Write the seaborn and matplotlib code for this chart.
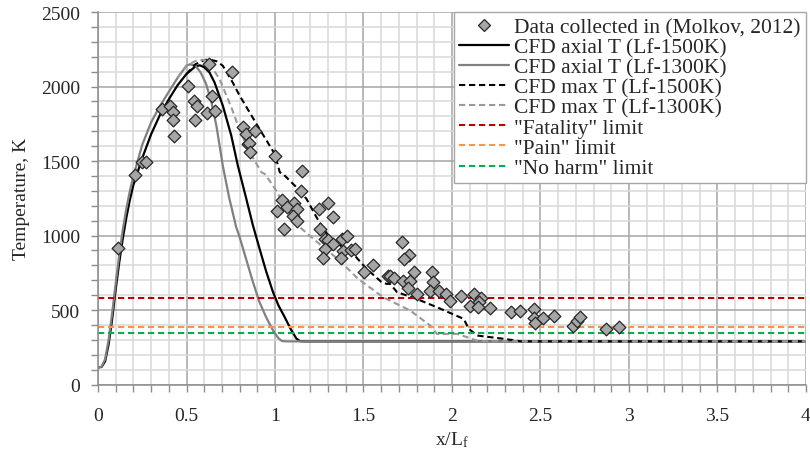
import numpy as np
import pandas as pd
import seaborn as sns
import matplotlib.pyplot as plt
from matplotlib.ticker import MultipleLocator, FormatStrFormatter
from matplotlib.lines import Line2D

# experimental data (Molkov, 2012)
data_x = [0.115, 0.208, 0.246, 0.270, 0.361, 0.408, 0.422, 0.422, 0.431, 0.507,
          0.541, 0.558, 0.550, 0.614, 0.643, 0.662, 0.626, 0.756, 0.822, 0.838,
          0.847, 0.885, 0.853, 0.860, 1.002, 1.153, 1.146, 1.042, 1.108, 1.070,
          1.300, 1.250, 1.013, 1.125, 1.102, 1.125, 1.051, 1.326, 1.255, 1.282,
          1.300, 1.326, 1.377, 1.405, 1.282, 1.269, 1.386, 1.373, 1.428, 1.454,
          1.503, 1.556, 1.641, 1.717, 1.758, 1.730, 1.647, 1.675, 1.722, 1.785,
          1.764, 1.754, 1.805, 1.887, 1.891, 1.878, 1.927, 1.964, 1.987, 2.053,
          2.125, 2.165, 2.155, 2.099, 2.148, 2.216, 2.331, 2.386, 2.463, 2.463,
          2.467, 2.517, 2.577, 2.685, 2.706, 2.724, 2.868, 2.946]
data_T = [917, 1409, 1497, 1492, 1850, 1872, 1832, 1776, 1667, 2003,
          1906, 1873, 1776, 1821, 1936, 1839, 2152, 2101, 1730, 1683,
          1615, 1705, 1622, 1564, 1537, 1436, 1298, 1242, 1220, 1190,
          1217, 1180, 1164, 1179, 1134, 1096, 1045, 1123, 1045, 978,
          967, 944, 978, 996, 911, 850, 899, 848, 904, 911,
          754, 803, 727, 956, 872, 844, 727, 714, 698, 754,
          694, 649, 609, 754, 687, 631, 631, 609, 560, 593,
          609, 582, 553, 526, 519, 513, 486, 495, 508, 448,
          412, 446, 463, 392, 425, 456, 374, 389]

# CFD axial temperature, Lf-1500K
ax15_x = [0, 0.02, 0.04, 0.06, 0.08, 0.10, 0.12, 0.14, 0.16, 0.18, 0.20, 0.25, 0.30,
          0.35, 0.40, 0.45, 0.50, 0.55, 0.575, 0.60, 0.63, 0.658, 0.705, 0.753,
          0.79, 0.838, 0.875, 0.913, 0.95, 0.989, 1.02, 1.055, 1.09, 1.12, 1.14,
          1.16, 4.0]
ax15_T = [115, 118, 155, 270, 440, 640, 820, 980, 1120, 1240, 1340, 1520, 1680,
          1810, 1915, 2010, 2085, 2135, 2143, 2130, 2095, 2029, 1873, 1671,
          1470, 1246, 1070, 911, 760, 620, 530, 452, 370, 310, 292,
          290, 290]

# CFD axial temperature, Lf-1300K
ax13_x = [0, 0.02, 0.04, 0.06, 0.08, 0.10, 0.12, 0.14, 0.16, 0.18, 0.20, 0.25, 0.30,
          0.35, 0.40, 0.45, 0.50, 0.52, 0.55, 0.58, 0.61, 0.64, 0.67, 0.705, 0.74,
          0.78, 0.80, 0.84, 0.875, 0.91, 0.95, 0.99, 1.02, 1.04, 1.06, 4.0]
ax13_T = [115, 120, 170, 300, 480, 680, 870, 1040, 1180, 1300, 1400, 1610, 1760,
          1870, 1965, 2060, 2140, 2150, 2140, 2095, 2020, 1900, 1730, 1470, 1260,
          1060, 990, 830, 690, 560, 452, 360, 310, 292, 290, 290]

# CFD max temperature, Lf-1500K
mx15_x = [0.50, 0.55, 0.60, 0.63, 0.67, 0.705, 0.76, 0.80, 0.90, 1.00, 1.027, 1.045,
          1.14, 1.178, 1.25, 1.31, 1.367, 1.44, 1.518, 1.60, 1.63, 1.65, 1.69, 1.80,
          1.915, 2.066, 2.095, 2.142, 2.293, 2.39, 4.0]
mx15_T = [2085, 2150, 2178, 2182, 2170, 2140, 2030, 1940, 1740, 1545, 1425, 1414,
          1302, 1246, 1090, 985, 935, 880, 776, 690, 676, 676, 620, 575,
          519, 441, 374, 329, 307, 290, 290]

# CFD max temperature, Lf-1300K
mx13_x = [0.45, 0.50, 0.55, 0.59, 0.62, 0.686, 0.753, 0.80, 0.857, 0.923, 0.942, 0.989,
          1.045, 1.13, 1.235, 1.36, 1.47, 1.613, 1.764, 1.877, 1.915, 2.03, 2.142,
          2.20, 4.0]
mx13_T = [2060, 2140, 2172, 2180, 2172, 2052, 1862, 1710, 1560, 1425, 1414, 1336,
          1224, 1067, 960, 838, 709, 585, 497, 396, 340, 340, 295,
          290, 290]

# harm limits, K
limit_names = ['"Fatality" limit', '"Pain" limit', '"No harm" limit']
limit_T = [582, 388, 343]
limit_colors = ['#c00000', '#f79646', '#00b050']

sns.set_theme(style="white")
plt.rcParams['font.family'] = ['Liberation Serif', 'DejaVu Serif']
plt.rcParams['mathtext.fontset'] = 'custom'
plt.rcParams['mathtext.rm'] = 'Liberation Serif'
plt.rcParams['mathtext.it'] = 'Liberation Serif:italic'

fig, ax = plt.subplots(figsize=(8.1, 4.52), dpi=100)
fig.subplots_adjust(left=0.121, right=0.995, bottom=0.147, top=0.971)

dash = (3, 1.8)
sns.lineplot(x=ax15_x, y=ax15_T, ax=ax, color='black', lw=1.6, sort=False, estimator=None)
sns.lineplot(x=ax13_x, y=ax13_T, ax=ax, color='#808080', lw=1.6, sort=False, estimator=None)
sns.lineplot(x=mx15_x, y=mx15_T, ax=ax, color='black', lw=1.5, sort=False, estimator=None)
sns.lineplot(x=mx13_x, y=mx13_T, ax=ax, color='#999999', lw=1.5, sort=False, estimator=None)
ax.lines[2].set_dashes(dash)
ax.lines[3].set_dashes(dash)
for name, t, c in zip(limit_names, limit_T, limit_colors):
    ax.axhline(t, color=c, lw=1.5, dashes=dash)

sns.scatterplot(x=data_x, y=data_T, ax=ax, marker='D', s=42, color='#a6a6a6',
                edgecolor='#262626', linewidth=0.9, zorder=5)

ax.set_xlim(0, 4)
ax.set_ylim(0, 2500)
ax.xaxis.set_major_locator(MultipleLocator(0.5))
ax.xaxis.set_minor_locator(MultipleLocator(0.1))
ax.yaxis.set_major_locator(MultipleLocator(500))
ax.yaxis.set_minor_locator(MultipleLocator(100))
ax.xaxis.set_major_formatter(FormatStrFormatter('%g'))
ax.grid(which='minor', color='#d9d9d9', lw=1.1)
ax.grid(which='major', color='#a6a6a6', lw=1.1)
ax.set_axisbelow(True)
ax.tick_params(which='both', direction='out', length=5, width=1, color='#8c8c8c',
               bottom=True, left=True, labelsize=14, pad=8)
ax.tick_params(axis='x', pad=11)
for s in ['top', 'right']:
    ax.spines[s].set_visible(False)
for s in ['left', 'bottom']:
    ax.spines[s].set_color('#8c8c8c')
    ax.spines[s].set_linewidth(1.1)

ax.set_xlabel('x/L$_\\mathrm{f}$', fontsize=14, labelpad=4)
ax.set_ylabel('Temperature, K', fontsize=14, labelpad=8)

handles = [
    Line2D([], [], ls='none', marker='D', ms=6, mfc='#a6a6a6', mec='#262626', mew=0.9),
    Line2D([], [], color='black', lw=1.6),
    Line2D([], [], color='#808080', lw=1.6),
    Line2D([], [], color='black', lw=1.5, dashes=dash),
    Line2D([], [], color='#999999', lw=1.5, dashes=dash),
] + [Line2D([], [], color=c, lw=1.5, dashes=dash) for c in limit_colors]
labels = ['Data collected in (Molkov, 2012)', 'CFD axial T (Lf-1500K)',
          'CFD axial T (Lf-1300K)', 'CFD max T (Lf-1500K)', 'CFD max T (Lf-1300K)'] + limit_names
leg = ax.legend(handles, labels, loc='upper right', bbox_to_anchor=(1, 1), borderaxespad=0,
                fontsize=15.5, fancybox=False, framealpha=1, edgecolor='#a6a6a6',
                handlelength=2.3, handletextpad=0.25, labelspacing=0.0,
                borderpad=0.25)
leg.get_frame().set_linewidth(1.0)

fig.savefig('out.png', dpi=100)
